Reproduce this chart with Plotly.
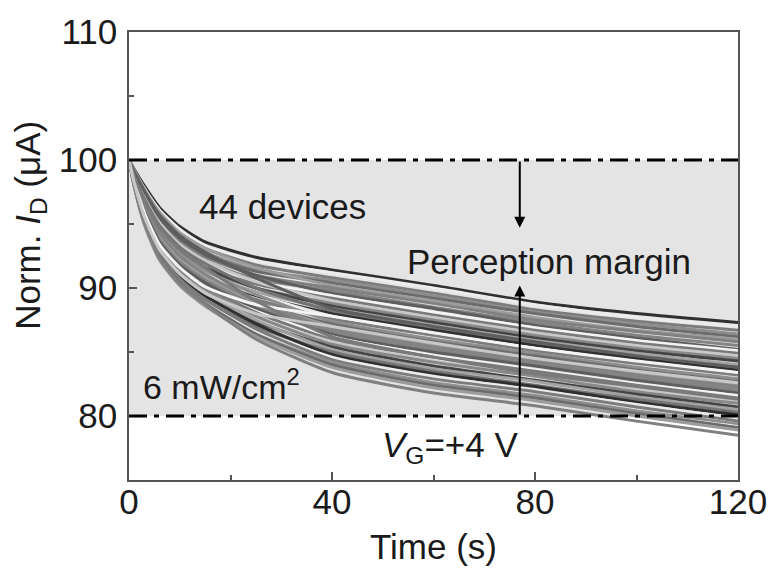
import plotly.graph_objects as go

# ---------------- data ----------------
times = [0, 1, 3, 6, 10, 15, 25, 40, 60, 80, 100, 120]

curves = [
    [100, 99.3, 98.0, 96.3, 94.8, 93.6, 92.4, 91.4, 90.2, 88.9, 88.0, 87.3],
    [100, 99.2, 97.8, 96.1, 94.6, 93.3, 92.1, 91.2, 90.0, 88.7, 87.7, 87.0],
    [100, 99.2, 97.7, 95.9, 94.3, 93.1, 91.8, 90.8, 89.6, 88.3, 87.4, 86.7],
    [100, 99.1, 97.6, 95.7, 94.1, 92.8, 91.4, 90.6, 89.4, 88.1, 87.2, 86.4],
    [100, 99.0, 97.4, 95.5, 93.9, 92.6, 91.3, 90.4, 89.2, 88.0, 87.0, 86.2],
    [100, 99.2, 97.7, 95.9, 94.3, 93.1, 91.6, 90.2, 89.0, 87.7, 86.7, 86.0],
    [100, 99.0, 97.3, 95.3, 93.7, 92.4, 91.0, 90.0, 88.8, 87.5, 86.6, 85.8],
    [100, 98.9, 97.1, 95.1, 93.4, 92.1, 90.7, 89.8, 88.5, 87.3, 86.3, 85.5],
    [100, 99.0, 97.4, 95.5, 93.9, 92.6, 91.0, 89.6, 88.4, 87.1, 86.1, 85.2],
    [100, 98.8, 97.0, 94.9, 93.2, 91.9, 90.5, 89.4, 88.1, 86.9, 85.9, 85.1],
    [100, 98.8, 96.8, 94.7, 93.0, 91.6, 90.3, 89.2, 87.9, 86.7, 85.7, 84.9],
    [100, 98.9, 97.1, 95.1, 93.4, 92.1, 90.5, 89.0, 87.7, 86.5, 85.5, 84.7],
    [100, 98.7, 96.7, 94.5, 92.7, 91.4, 90.0, 88.8, 87.5, 86.3, 85.3, 84.5],
    [100, 98.8, 96.8, 94.7, 93.0, 91.6, 90.0, 88.6, 87.3, 86.1, 85.1, 84.3],
    [100, 98.7, 96.5, 94.3, 92.5, 91.1, 89.7, 88.4, 87.1, 85.9, 84.9, 84.0],
    [100, 98.8, 97.0, 94.9, 93.2, 91.9, 90.0, 88.2, 86.8, 85.7, 84.6, 83.8],
    [100, 98.6, 96.4, 94.0, 92.3, 90.9, 89.4, 88.0, 86.7, 85.5, 84.5, 83.6],
    [100, 98.7, 96.5, 94.3, 92.5, 91.1, 89.5, 87.8, 86.4, 85.3, 84.2, 83.3],
    [100, 98.5, 96.2, 93.8, 92.0, 90.6, 89.1, 87.6, 86.3, 85.1, 84.1, 83.2],
    [100, 98.7, 96.7, 94.5, 92.7, 91.4, 89.5, 87.4, 86.0, 84.9, 83.8, 82.9],
    [100, 98.5, 96.1, 93.6, 91.8, 90.4, 88.8, 87.2, 85.8, 84.7, 83.6, 82.7],
    [100, 98.6, 96.4, 94.0, 92.3, 90.9, 88.9, 87.0, 85.6, 84.4, 83.4, 82.4],
    [100, 98.4, 95.9, 93.4, 91.6, 90.1, 88.5, 86.8, 85.4, 84.3, 83.2, 82.3],
    [100, 98.5, 96.2, 93.8, 92.0, 90.6, 88.6, 86.6, 85.2, 84.0, 83.0, 82.0],
    [100, 98.5, 96.1, 93.6, 91.8, 90.4, 88.4, 86.4, 85.0, 83.9, 82.8, 81.8],
    [100, 98.3, 95.8, 93.2, 91.4, 89.9, 88.2, 86.2, 84.7, 83.6, 82.5, 81.6],
    [100, 98.4, 95.9, 93.4, 91.6, 90.1, 88.1, 86.0, 84.6, 83.5, 82.4, 81.4],
    [100, 98.3, 95.6, 93.0, 91.1, 89.6, 87.7, 85.8, 84.3, 83.2, 82.1, 81.1],
    [100, 98.3, 95.8, 93.2, 91.4, 89.9, 87.8, 85.6, 84.2, 83.1, 81.9, 81.0],
    [100, 98.2, 95.5, 92.8, 90.9, 89.4, 87.4, 85.4, 83.9, 82.8, 81.7, 80.7],
    [100, 98.3, 95.6, 93.0, 91.1, 89.6, 87.5, 85.2, 83.7, 82.7, 81.5, 80.5],
    [100, 98.1, 95.3, 92.6, 90.7, 89.1, 87.0, 85.0, 83.5, 82.4, 81.3, 80.3],
    [100, 98.2, 95.5, 92.8, 90.9, 89.4, 87.2, 84.8, 83.3, 82.3, 81.1, 80.1],
    [100, 98.1, 95.2, 92.4, 90.4, 88.8, 86.7, 84.6, 83.1, 82.0, 80.9, 79.8],
    [100, 98.1, 95.3, 92.6, 90.7, 89.1, 86.8, 84.4, 82.9, 81.9, 80.7, 79.6],
    [100, 98.0, 95.0, 92.2, 90.2, 88.6, 86.4, 84.2, 82.6, 81.6, 80.4, 79.4],
    [100, 98.1, 95.2, 92.4, 90.4, 88.8, 86.4, 84.0, 82.4, 81.4, 80.2, 79.1],
    [100, 98.0, 95.0, 92.2, 90.2, 88.6, 86.2, 83.8, 82.2, 81.2, 80.0, 78.9],
    [100, 98.0, 95.1, 92.3, 90.3, 88.7, 86.0, 83.4, 81.8, 80.8, 79.6, 78.5],
    [100, 98.7, 96.5, 94.3, 92.5, 91.1, 89.0, 86.8, 85.4, 84.2, 83.1, 82.2],
    [100, 99.1, 97.6, 95.7, 94.1, 92.8, 90.8, 88.4, 87.0, 85.8, 84.7, 83.8],
    [100, 98.4, 95.9, 93.4, 91.6, 90.1, 88.7, 87.8, 86.5, 85.3, 84.3, 83.4],
    [100, 98.8, 96.8, 94.7, 93.0, 91.6, 89.0, 86.2, 84.6, 83.3, 82.3, 81.3],
    [100, 98.3, 95.6, 93.0, 91.1, 89.6, 88.0, 87.0, 85.7, 84.5, 83.5, 82.6],
]

line_colors = ["#303030", "#ececec", "#7c7c7c", "#8e8e8e", "#6c6c6c", "#9c9c9c",
               "#808080", "#848484", "#5e5e5e", "#f4f4f4", "#7a7a7a", "#c8c8c8",
               "#888888", "#444444", "#a2a2a2", "#747474"]

ref_levels = [100, 80]          # dash-dot limits
margin_x = 77                   # arrow position (s)
arrow_heads = [94.7, 90.2]      # arrow tips

x_ticks = [0, 40, 80, 120]
y_ticks = [80, 90, 100, 110]

FONT = "Arial, 'Liberation Sans', sans-serif"
TXT = "#1a1a1a"

fig = go.Figure()

for i, c in enumerate(curves):
    fig.add_trace(go.Scatter(
        x=times, y=c, mode="lines",
        line=dict(color=line_colors[i % len(line_colors)], width=3, shape="spline", smoothing=0.6),
        showlegend=False, hoverinfo="skip"))

# shaded margin region
fig.add_shape(type="rect", xref="x", yref="y", x0=0, x1=120, y0=ref_levels[1], y1=ref_levels[0],
              fillcolor="#e4e4e4", line=dict(width=0), layer="below")
# dash-dot limits
for lv in ref_levels:
    fig.add_shape(type="line", xref="x", yref="y", x0=0, x1=120, y0=lv, y1=lv,
                  line=dict(color="black", width=3, dash="18px,7px,5px,7px"), layer="above")

# arrows
for tip, tail in zip(arrow_heads, ref_levels):
    fig.add_annotation(x=margin_x, y=tip, ax=margin_x, ay=tail, xref="x", yref="y",
                       axref="x", ayref="y", showarrow=True, arrowhead=2, arrowsize=1.1,
                       arrowwidth=2, arrowcolor="black", text="")

# texts
fig.add_annotation(x=30.2, y=96.4, xref="x", yref="y", text="44 devices", showarrow=False,
                   font=dict(size=35, family=FONT, color=TXT))
fig.add_annotation(x=82.7, y=92.1, xref="x", yref="y", text="Perception margin", showarrow=False,
                   font=dict(size=35, family=FONT, color=TXT))
fig.add_annotation(x=2.3, y=82.5, xref="x", yref="y", xanchor="left", text="6 mW/cm<sup>2</sup>",
                   showarrow=False, font=dict(size=34, family=FONT, color=TXT))
fig.add_annotation(x=49.5, y=77.6, xref="x", yref="y", xanchor="left", text="<i>V</i><sub>G</sub>=+4 V",
                   showarrow=False, font=dict(size=35, family=FONT, color=TXT))

# axis titles
fig.add_annotation(x=-0.163, y=0.569, xref="paper", yref="paper", xanchor="center", yanchor="middle",
                   textangle=-90, text="Norm. <i>I</i><sub>D</sub> (μA)", showarrow=False,
                   font=dict(size=35, family=FONT, color=TXT))
fig.add_annotation(x=0.5, y=-0.149, xref="paper", yref="paper", xanchor="center", yanchor="middle",
                   text="Time (s)", showarrow=False,
                   font=dict(size=35, family=FONT, color=TXT))

axis_common = dict(showline=True, linecolor="#555555", linewidth=1.5, mirror=True,
                   ticks="inside", ticklen=8, tickwidth=1.5, tickcolor="#555555",
                   showgrid=False, zeroline=False,
                   tickfont=dict(size=35, family=FONT, color=TXT))

fig.update_xaxes(range=[0, 120], tickvals=x_ticks, ticktext=[str(v) for v in x_ticks],
                 minor=dict(ticks="inside", ticklen=5, tickwidth=1.5, tickcolor="#555555", dtick=20, tick0=0),
                 ticklabelstandoff=-10, **axis_common)
fig.update_yaxes(range=[75, 110], tickvals=y_ticks, ticktext=[str(v) for v in y_ticks],
                 minor=dict(ticks="inside", ticklen=5, tickwidth=1.5, tickcolor="#555555", dtick=5, tick0=75),
                 ticklabelstandoff=3, **axis_common)

fig.update_layout(width=779, height=575, margin=dict(l=129, r=36, t=23, b=95),
                  plot_bgcolor="white", paper_bgcolor="white", showlegend=False)

fig.write_html("out.html")
